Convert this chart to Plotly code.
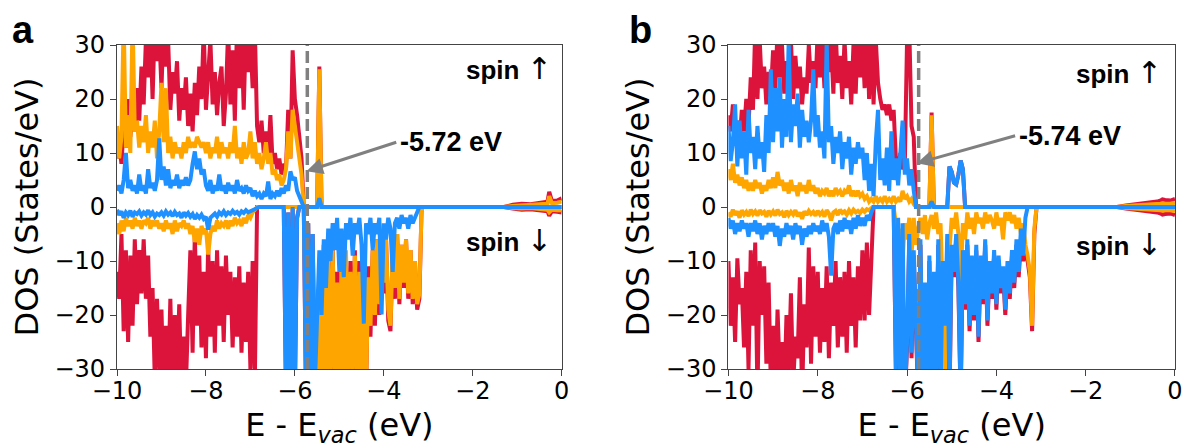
import plotly.graph_objects as go
from plotly.subplots import make_subplots

# ---------------- energy grid (eV, relative to vacuum) ----------------
E_GRID = [round(-10 + 0.05 * i, 2) for i in range(141)]          # -10.00 ... -3.00
TAIL_E = [-2.9, -1.3, -1.1, -0.9, -0.7, -0.5, -0.4, -0.32, -0.28, -0.22, -0.1, 0.0]

# ---------------- panel a ----------------
RED_UP_A = [
    9, 12, 8, 15, 11, 20, 13, 18, 14, 22, 16, 26, 19, 31, 24, 33, 20, 34, 27, 32,
    22, 34, 26, 31, 18, 25, 21, 27, 16, 22, 18, 24, 15, 21, 14, 23, 17, 26, 20, 33,
    18, 24, 31, 19, 25, 17, 23, 26, 15, 21, 33, 19, 29, 16, 34, 22, 31, 18, 33, 25,
    31, 22, 33, 15, 12, 16, 10, 14, 9, 17, 8, 10, 7, 9, 6, 8, 7, 18, 9, 29,
    20, 17, 12, 9, 0, 0, 0, 0, 0, 0, 0, 26, 0, 0, 0, 0, 0, 0, 0, 0,
    0, 0, 0, 0, 0, 0, 0, 0, 0, 0, 0, 0, 0, 0, 0, 0, 0, 0, 0, 0,
    0, 0, 0, 0, 0, 0, 0, 0, 0, 0, 0, 0, 0, 0, 0, 0, 0, 0, 0, 0,
    0]
ORANGE_UP_A = [
    15, 9, 13, 35, 11, 17, 10, 35, 14, 16, 11, 15, 12, 17, 10, 14, 11, 16, 9, 14,
    23, 12, 22, 10, 13, 9, 12, 10, 11, 9, 12, 10, 13, 11, 12, 11, 13, 12, 11, 12,
    10, 12, 9, 11, 10, 13, 9, 12, 10, 11, 9, 12, 10, 15, 9, 11, 8, 12, 9, 10,
    14, 9, 12, 8, 10, 7, 9, 12, 8, 10, 6, 7, 5, 6, 4, 5, 7, 14, 9, 18,
    15, 12, 8, 6, 0, 0, 0, 0, 0, 0, 0, 25.5, 0, 0, 0, 0, 0, 0, 0, 0,
    0, 0, 0, 0, 0, 0, 0, 0, 0, 0, 0, 0, 0, 0, 0, 0, 0, 0, 0, 0,
    0, 0, 0, 0, 0, 0, 0, 0, 0, 0, 0, 0, 0, 0, 0, 0, 0, 0, 0, 0,
    0]
BLUE_UP_A = [
    3, 4, 2.5, 5, 10, 3.5, 5, 3, 4, 2.5, 6, 3, 4, 2.5, 7, 3.5, 4.5, 3, 5, 12.7,
    5, 7.5, 4, 7, 3.5, 5, 4, 6, 3.5, 5, 4, 5.5, 4, 5, 8, 10.3, 7, 9, 6, 7,
    4, 3, 5, 2.5, 4, 3, 6, 3, 4, 2.5, 4.5, 3, 4, 2.5, 5, 3, 3.5, 2.5, 4, 3,
    3.5, 2, 3, 2, 2.5, 1.5, 2.5, 2, 4.7, 1.5, 2.5, 2, 3, 2, 3.5, 2.5, 4, 3, 6.6, 5,
    5.5, 3, 2, 1, 0, 0, 0, 0, 0, 0, 0, 1.6, 0, 0, 0, 0, 0, 0, 0, 0,
    0, 0, 0, 0, 0, 0, 0, 0, 0, 0, 0, 0, 0, 0, 0, 0, 0, 0, 0, 0,
    0, 0, 0, 0, 0, 0, 0, 0, 0, 0, 0, 0, 0, 0, 0, 0, 0, 0, 0, 0,
    0]
RED_DN_A = [
    -12, -17, -5, -23, -8, -25, -9, -22, -6, -18, -8, -16, -6, -17, -9, -24, -15, -32, -17, -30,
    -19, -35, -22, -33, -17, -35, -20, -31, -18, -35, -24, -33, -20, -8, -27, -5, -22, -9, -26, -12,
    -28, -7, -24, -10, -27, -8, -22, -11, -25, -9, -20, -12, -26, -13, -24, -11, -27, -14, -25, -12,
    -30, -10, -32, 0, 0, 0, 0, 0, 0, 0, 0, 0, 0, 0, 0, 0, -35, -1, -35, 0,
    -35, -2, 0, 0, 0, -35, -3, -35, -5, -33, -35, -12, -35, -7, -34, -9, -35, -7, -32, -12,
    -35, -9, -34, -10, -35, -10, -32, -8, -35, -10, -33, -9, -35, -11, -24, -8, -22, -6, -20, -5,
    -16, -6, -21, -23, -8, -17, -5, -18, -7, -15, -6, -17, -8, -18, -10, -19, -17, 0, 0, 0,
    0]
ORANGE_DN_A = [
    -3, -5, -2.5, -4.5, -2, -3.5, -2.5, -4, -2, -3.5, -2.5, -4, -2.5, -3, -2, -4, -2.5, -3.5, -2.5, -4,
    -3, -4.5, -2.5, -4, -3, -5, -2.5, -4.5, -3, -3.5, -2.5, -4, -3, -5, -3.5, -6.5, -4, -7, -3.5, -5,
    -4, -8.8, -5, -3.5, -4.5, -2.5, -4, -3, -3.5, -2.5, -4, -2.5, -3.5, -2, -3, -2.5, -3.5, -2, -3, -1.5,
    -2, -1, -0.5, 0, 0, 0, 0, 0, 0, 0, 0, 0, 0, 0, 0, 0, 0, 0, 0, 0,
    0, 0, 0, 0, 0, -20, -20, -20, -20, -20, -34, -14, -34, -12, -32, -10, -34, -8, -30, -14,
    -34, -10, -33, -8, -34, -12, -30, -9, -34, -12, -31, -10, -34, -13, -22, -8, -20, -6, -18, -5,
    -14, -6, -19, -22, -8, -15, -5, -17, -7, -14, -6, -16, -8, -17, -10, -18, -16, 0, 0, 0,
    0]
BLUE_DN_A = [
    -0.5, -1.5, -0.8, -2, -1, -1.5, -0.7, -1.8, -1, -1.3, -0.8, -1.6, -1, -1.4, -0.6, -1.5, -1, -1.8, -1.2, -1.5,
    -1, -1.6, -0.8, -1.4, -1, -1.7, -0.9, -1.5, -1.2, -2, -1, -1.6, -1.1, -1.8, -1.3, -2.2, -1.5, -2, -1.4, -2.2,
    -1.8, -4.2, -2, -1.5, -1.2, -1.8, -1, -1.4, -0.8, -1.5, -1, -1.3, -0.7, -1.2, -0.9, -1.4, -0.8, -1.1, -0.6, -1,
    -0.8, -0.6, -0.3, 0, 0, 0, 0, 0, 0, 0, 0, 0, 0, 0, 0, 0, -35, -1, -35, 0,
    -35, -2, 0, 0, 0, -35, -3, -35, -5, -33, -17, -8, -20, -6, -15, -4, -10, -3, -8, -2,
    -12, -4, -13, -3, -6, -2, -9, -3, -5, -2, -7, -21.6, -3, -5, -2, -8, -3, -5, -2, -19.9,
    -3, -6, -2, -4, -12, -3, -2, -4, -1.5, -3, -2, -4, -1.5, -3, -2, -1, 0, 0, 0, 0,
    0]
RED_UP_TAIL_A = [0, 0, 0.4, 0.6, 0.5, 0.8, 0.9, 1.0, 2.8, 1.1, 1.2, 1.6]
ORANGE_UP_TAIL_A = [0, 0, 0.2, 0.3, 0.3, 0.4, 0.5, 0.6, 2.0, 0.7, 0.8, 1.0]
RED_DN_TAIL_A = [0, 0, -0.3, -0.5, -0.4, -0.6, -0.7, -0.8, -1.6, -0.8, -0.9, -1.0]
ORANGE_DN_TAIL_A = [0, 0, -0.2, -0.3, -0.2, -0.4, -0.4, -0.5, -1.0, -0.5, -0.6, -0.6]
BLUE_TAIL = [0, 0, 0, 0, 0, 0, 0, 0, 0, 0, 0, 0]

# ---------------- panel b ----------------
RED_UP_B = [
    17, 14, 19, 13, 16, 12, 18, 14, 20, 15, 24, 18, 33, 20, 31, 22, 26, 19, 25, 21,
    29, 22, 33, 24, 30, 21, 27, 23, 31, 20, 28, 22, 26, 19, 24, 21, 30, 23, 27, 22,
    33, 24, 31, 22, 34, 25, 30, 21, 33, 23, 28, 20, 31, 22, 27, 19, 30, 21, 33, 24,
    31, 22, 34, 20, 33, 19, 31, 23, 20, 18, 19, 17, 19, 16, 18, 9, 7, 10, 7, 8,
    31, 33, 15, 13, 0, 0, 0, 0, 0, 0, 0, 17.5, 0, 0, 0, 0, 0, 0, 0, 7.5,
    6.5, 4.5, 4.2, 6, 8.6, 7, 0, 0, 0, 0, 0, 0, 0, 0, 0, 0, 0, 0, 0, 0,
    0, 0, 0, 0, 0, 0, 0, 0, 0, 0, 0, 0, 0, 0, 0, 0, 0, 0, 0, 0,
    0]
ORANGE_UP_B = [
    7, 5, 8, 4.5, 6, 4, 5.5, 3.5, 5, 3, 4.5, 3, 5, 3.5, 4.5, 2.5, 4, 3, 5, 3.5,
    5.5, 3.5, 6.5, 4, 5, 3, 4.5, 2.5, 5, 3, 4, 2, 4.5, 3, 4, 2.5, 5, 3, 4, 2.5,
    3.5, 2, 3, 2.5, 3.5, 2, 3, 2, 3.5, 2.5, 3, 2, 3, 2.5, 4, 2, 3, 2, 3, 2,
    2.5, 1.5, 2, 1, 1.5, 1, 2, 1, 1.5, 1, 2, 1, 1.5, 1, 2, 1, 1.5, 1, 3, 1.5,
    2, 1, 1.5, 0.5, 0, 0, 0, 0, 0, 0, 0, 17, 0, 0, 0, 0, 0, 0, 0, 0,
    0, 0, 0, 0, 0, 0, 0, 0, 0, 0, 0, 0, 0, 0, 0, 0, 0, 0, 0, 0,
    0, 0, 0, 0, 0, 0, 0, 0, 0, 0, 0, 0, 0, 0, 0, 0, 0, 0, 0, 0,
    0]
BLUE_UP_B = [
    15, 8.5, 12, 19, 7.5, 16, 9, 14, 6, 18, 10, 13, 7, 15, 9, 12, 6.5, 17, 10, 25.5,
    12, 22, 14, 24, 11, 20, 13, 31, 12, 19, 15, 21, 11, 18, 13, 16, 12, 16, 25.5, 13,
    17, 11, 14, 9, 31, 12, 15, 8, 13, 10, 14, 7, 12, 9, 13, 6, 11, 8, 12, 9,
    11, 5, 10, 3, 8, 2, 12, 18, 5, 9, 4, 11, 3, 14, 5, 9, 4, 10, 16, 6,
    9, 4, 7, 3, 0, 0, 0, 0, 0, 0, 0, 1, 0, 0, 0, 0, 0, 0, 0, 7.5,
    6.5, 4.5, 4.2, 6, 8.6, 7, 0, 0, 0, 0, 0, 0, 0, 0, 0, 0, 0, 0, 0, 0,
    0, 0, 0, 0, 0, 0, 0, 0, 0, 0, 0, 0, 0, 0, 0, 0, 0, 0, 0, 0,
    0]
RED_DN_B = [
    -10, -22, -13, -25, -9.5, -18, -15, -26, -12, -30, -8, -22, -6.6, -35, -10, -20, -11, -29, -14, -33,
    -22, -35, -19, -31, -25, -35, -20, -30, -16, -33, -24, -28, -13, -35, -18, -26, -7.5, -29, -11, -24,
    -12, -27, -15, -25, -11, -28, -14, -22, -10, -26, -13, -24, -12, -27, -10, -22, -13, -26, -11, -21,
    -8, -21, -6.6, -20, -10, 0, 0, 0, 0, 0, 0, 0, 0, 0, 0, -31, -9, -36, -11, -36,
    -26, -6, -28, -9, -25, -36, -7, -36, -15, -36, -10, -36, -13, -31, -7, -36, -17, -31, -23, -36,
    -8, -13, -6, -15, -36, -9, -19, -7, -23, -10, -21, -8, -25, -10, -18, -7, -22, -11, -17, -9,
    -19, -10, -16, -12, -20, -11, -17, -9, -15, -7, -13, -6, -10, -8, -10, -13, -23, -5, 0, 0,
    0]
ORANGE_DN_B = [
    -1, -1.8, -0.5, -1.5, -0.8, -2, -0.6, -1.4, -0.9, -1.7, -0.5, -1.3, -0.8, -1.6, -0.6, -1.2, -0.9, -1.8, -0.7, -1.4,
    -0.8, -1.6, -0.5, -1.3, -1, -1.9, -0.7, -1.5, -0.9, -1.4, -0.6, -1.7, -1, -2.2, -0.8, -1.5, -0.7, -1.3, -0.9, -1.6,
    -0.7, -1.4, -0.9, -1.8, -0.6, -1.2, -2.5, -1, -0.7, -1.5, -0.5, -1.1, -0.8, -1.4, -0.6, -1.2, -0.5, -1, -0.7, -1.1,
    -0.5, -0.9, -0.4, -0.6, -0.2, 0, 0, 0, 0, 0, 0, 0, 0, 0, 0, -3, -8, -4, -10, -3,
    -6, -2, -9, -2, -7, -4, -2, -5, -1.5, -6, -3, -1.5, -4, -1, -5, -3, -16, -30, -22, -8,
    -2, -4, -1, -5, -14, -3, -6, -1, -4, -2, -5, -1, -3, -2, -4, -1, -3, -1.5, -2.5, -4,
    -1, -3.4, -2, -6, -1, -2.5, -1, -3, -1.5, -4, -2, -5, -3, -7, -9, -12, -22, -4, 0, 0,
    0]
BLUE_DN_B = [
    -2, -4, -2.5, -5, -3, -4.5, -2.5, -4, -3, -5.5, -3, -4.5, -2.5, -5, -3, -6, -3.5, -5, -3, -4.5,
    -3, -5.5, -3.5, -7.2, -4, -5.5, -3, -5, -3.5, -6, -3, -5, -3.5, -7, -4, -5.5, -3.5, -5, -3, -4.5,
    -3.5, -5, -2.5, -4.5, -3, -5.5, -12.7, -4, -3, -5, -2.5, -4.5, -2, -4, -2.5, -5, -2, -4, -1.5, -3.5,
    -2, -3.5, -1.5, -2.5, -1, 0, 0, 0, 0, 0, 0, 0, 0, 0, 0, -30, -2, -35, -3, -35,
    -25, -5, -27, -8, -24, -35, -6, -35, -14, -35, -9, -35, -12, -30, -6, -35, -10, -22, -5, -35,
    -7, -12, -5, -14, -35, -8, -18, -6, -22, -9, -20, -7, -24, -9, -17, -6, -21, -10, -16, -8,
    -18, -9, -15, -11, -19, -10, -16, -8, -14, -6, -12, -4, -9, -2, 0, 0, 0, 0, 0, 0,
    0]
RED_UP_TAIL_B = [0, 0, 0.3, 0.5, 0.6, 0.8, 1.0, 1.2, 1.4, 1.3, 1.2, 1.5]
ORANGE_UP_TAIL_B = [0, 0, 0.2, 0.3, 0.3, 0.4, 0.5, 0.6, 0.7, 0.6, 0.6, 0.8]
RED_DN_TAIL_B = [0, 0, -0.3, -0.5, -0.6, -0.8, -1.0, -1.2, -1.4, -1.3, -1.2, -1.5]
ORANGE_DN_TAIL_B = [0, 0, -0.2, -0.3, -0.3, -0.4, -0.5, -0.6, -0.7, -0.6, -0.6, -0.8]

VBM = [-5.72, -5.74]
VBM_LABELS = ["-5.72 eV", "-5.74 eV"]
PANEL_LABELS = ["a", "b"]

RED, ORANGE, BLUE = "#DC143C", "#FFA500", "#1E90FF"

for name, arr in [("RED_UP_A", RED_UP_A), ("ORANGE_UP_A", ORANGE_UP_A), ("BLUE_UP_A", BLUE_UP_A),
                  ("RED_DN_A", RED_DN_A), ("ORANGE_DN_A", ORANGE_DN_A), ("BLUE_DN_A", BLUE_DN_A),
                  ("RED_UP_B", RED_UP_B), ("ORANGE_UP_B", ORANGE_UP_B), ("BLUE_UP_B", BLUE_UP_B),
                  ("RED_DN_B", RED_DN_B), ("ORANGE_DN_B", ORANGE_DN_B), ("BLUE_DN_B", BLUE_DN_B)]:
    if len(arr) != len(E_GRID):
        raise ValueError(f"{name} has {len(arr)} values, expected {len(E_GRID)}")

fig = make_subplots(rows=1, cols=2)
X = E_GRID + TAIL_E
panels = [
    [(RED_UP_A, RED_UP_TAIL_A, RED), (RED_DN_A, RED_DN_TAIL_A, RED),
     (ORANGE_UP_A, ORANGE_UP_TAIL_A, ORANGE), (ORANGE_DN_A, ORANGE_DN_TAIL_A, ORANGE),
     (BLUE_UP_A, BLUE_TAIL, BLUE), (BLUE_DN_A, BLUE_TAIL, BLUE)],
    [(RED_UP_B, RED_UP_TAIL_B, RED), (RED_DN_B, RED_DN_TAIL_B, RED),
     (ORANGE_UP_B, ORANGE_UP_TAIL_B, ORANGE), (ORANGE_DN_B, ORANGE_DN_TAIL_B, ORANGE),
     (BLUE_UP_B, BLUE_TAIL, BLUE), (BLUE_DN_B, BLUE_TAIL, BLUE)],
]
for col, series in enumerate(panels, start=1):
    for main, tail, color in series:
        fig.add_trace(go.Scatter(x=X, y=main + tail, mode="lines",
                                 line=dict(color=color, width=4),
                                 hoverinfo="skip", showlegend=False), row=1, col=col)

TICK_FONT = dict(family="DejaVu Sans", size=24, color="black")
TITLE_FONT = dict(family="DejaVu Sans", size=32, color="black")
axis_common = dict(showline=True, mirror=True, linecolor="#444", linewidth=1.2,
                   ticks="outside", ticklen=6, tickwidth=1.2, tickcolor="#444",
                   showgrid=False, zeroline=False, tickfont=TICK_FONT)

for i, dom in enumerate([[0.0, 0.4203], [0.5779, 1.0]], start=1):
    fig.update_xaxes(domain=dom, range=[-10, 0], tickvals=[-10, -8, -6, -4, -2, 0],
                     ticklabelstandoff=-6,
                     title=dict(text="E - E<sub><i>vac</i></sub> (eV)", font=TITLE_FONT, standoff=12),
                     **axis_common, row=1, col=i)
    fig.update_yaxes(range=[-30, 30], tickvals=[-30, -20, -10, 0, 10, 20, 30],
                     title=dict(text="DOS (States/eV)", font=TITLE_FONT, standoff=6),
                     **axis_common, row=1, col=i)

ann_font = dict(family="Liberation Sans, Arial", size=27, color="black")
spin_font = dict(family="Liberation Sans, Arial", size=26, color="black")
ARROW_SPAN_UP = '<span style="font-family:DejaVu Sans;font-size:30px">↑</span>'
ARROW_SPAN_DN = '<span style="font-family:DejaVu Sans;font-size:30px">↓</span>'
# (head x, head y, tail x, tail y)
arrows = [(-5.74, 6.6, -3.72, 12.0), (-5.78, 8.1, -3.58, 13.2)]
spin_pos = [(-0.18, 25.7, -6.2), (-0.24, 25.0, -7.0)]
for k in range(2):
    xr = "x" if k == 0 else "x2"
    yr = "y" if k == 0 else "y2"
    fig.add_shape(type="line", x0=VBM[k], x1=VBM[k], y0=-30, y1=30, xref=xr, yref=yr,
                  line=dict(color="#808080", width=3.5, dash="12px,5px"), layer="above")
    hx, hy, tx, ty = arrows[k]
    fig.add_annotation(x=hx, y=hy, ax=tx, ay=ty, xref=xr, yref=yr, axref=xr, ayref=yr,
                       text="<b>" + VBM_LABELS[k] + "</b>", showarrow=True,
                       arrowhead=2, arrowsize=1.1, arrowwidth=3, arrowcolor="#808080",
                       font=ann_font, xanchor="left", yanchor="middle", borderpad=3)
    sx, su, sd = spin_pos[k]
    fig.add_annotation(x=sx, y=su, xref=xr, yref=yr, text="<b>spin</b> " + ARROW_SPAN_UP,
                       showarrow=False, font=spin_font, xanchor="right", yanchor="middle")
    fig.add_annotation(x=sx, y=sd, xref=xr, yref=yr, text="<b>spin</b> " + ARROW_SPAN_DN,
                       showarrow=False, font=spin_font, xanchor="right", yanchor="middle")

for px_x, lab in [(-0.089, PANEL_LABELS[0]), (0.495, PANEL_LABELS[1])]:
    fig.add_annotation(x=px_x, y=1.046, xref="paper", yref="paper", text="<b>" + lab + "</b>",
                       showarrow=False, font=dict(family="Liberation Sans, Arial", size=38, color="black"),
                       xanchor="center", yanchor="middle")

fig.update_layout(width=1192, height=448, margin=dict(l=117, r=9, t=45, b=76),
                  paper_bgcolor="white", plot_bgcolor="white", hovermode=False,
                  showlegend=False)
fig.write_html("out.html")
